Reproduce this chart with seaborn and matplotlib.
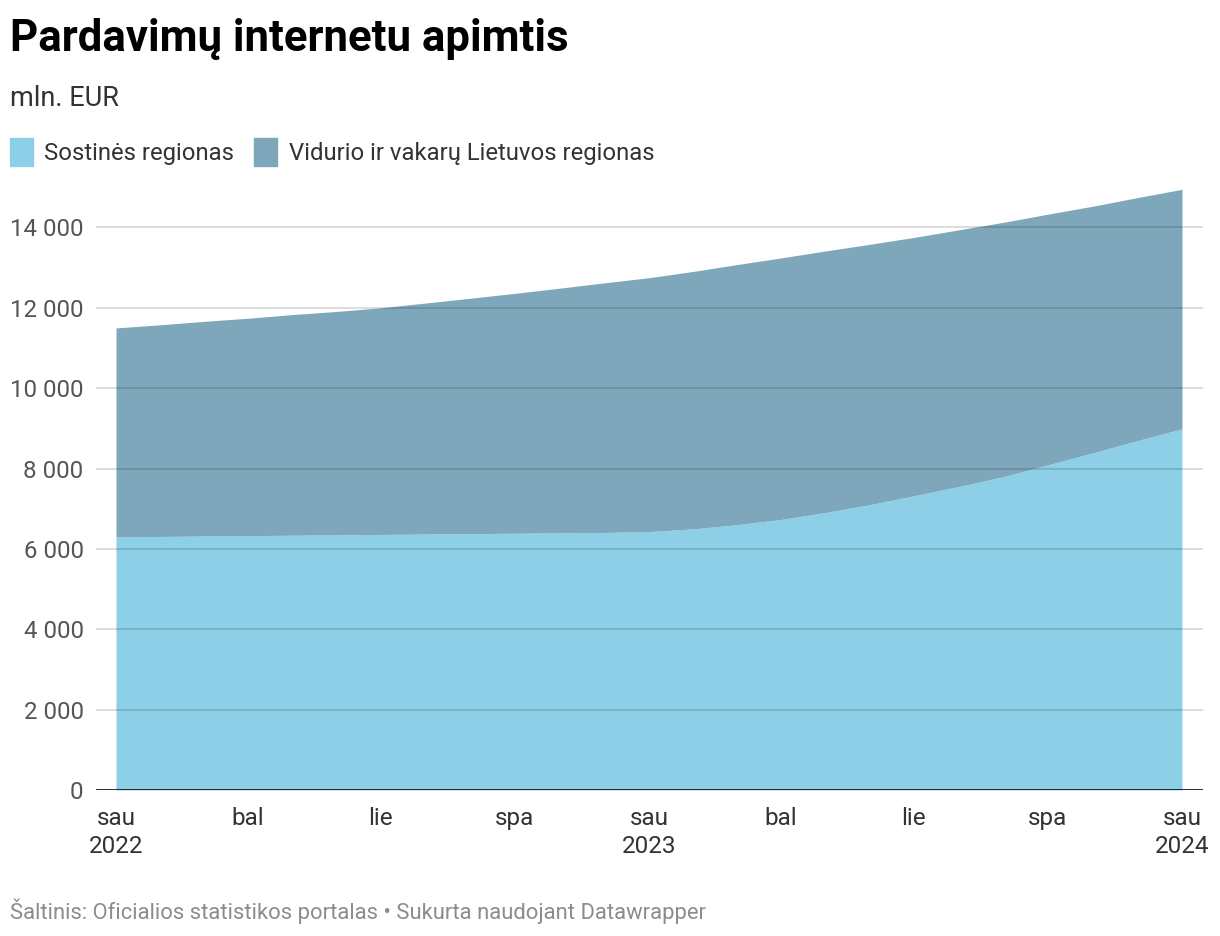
import pandas as pd
import matplotlib
matplotlib.use("Agg")
import matplotlib.pyplot as plt
from matplotlib.patches import Rectangle
import seaborn as sns

# duomenys, mln. EUR (nuskaityta nuo grafiko)
menesiai = pd.date_range("2022-01-01", "2024-01-01", freq="MS")
sostines = [6300, 6310, 6320, 6330, 6340, 6350, 6360, 6370, 6380, 6390, 6400, 6410,
            6430, 6500, 6600, 6730, 6900, 7100, 7320, 7550, 7800, 8090, 8390, 8690, 8990]
vidurio = [5200, 5270, 5340, 5410, 5490, 5560, 5640, 5750, 5860, 5970, 6090, 6210,
           6320, 6410, 6470, 6510, 6510, 6480, 6430, 6390, 6330, 6240, 6140, 6050, 5960]
serijos = ["Sostinės regionas", "Vidurio ir vakarų Lietuvos regionas"]
spalvos = ["#8ccfe7", "#7fa7bb"]

tick_datos = pd.date_range("2022-01-01", "2024-01-01", freq="QS")
tick_zymes = ["sau\n2022", "bal", "lie", "spa", "sau\n2023", "bal", "lie", "spa", "sau\n2024"]
y_ticks = [0, 2000, 4000, 6000, 8000, 10000, 12000, 14000]

df = pd.DataFrame({"data": menesiai, serijos[0]: sostines, serijos[1]: vidurio})

sns.set_theme(style="white")
plt.rcParams["font.family"] = ["Roboto", "DejaVu Sans"]

W, H = 1220, 936
fig = plt.figure(figsize=(W / 100, H / 100), dpi=100)
px = 40.18  # px per 1000
ax_top = 790 - 15 * px
ax = fig.add_axes([96 / W, 1 - 790 / H, (1203 - 96) / W, (790 - ax_top) / H])

ax.stackplot(df["data"], df[serijos[0]], df[serijos[1]], colors=spalvos,
             linewidth=0, zorder=1)

ax.set_ylim(0, 15000)
ax.set_xlim(pd.Timestamp("2022-01-01") - pd.Timedelta(days=13.7),
            pd.Timestamp("2024-01-01") + pd.Timedelta(days=14.4))

for v in y_ticks[1:]:
    ax.axhline(v, color="black", alpha=0.16, lw=1.2, zorder=2)
ax.axhline(0, color="#1a1a1a", lw=2, zorder=3)

ax.set_yticks(y_ticks)
ax.set_yticklabels([f"{v:,}".replace(",", " ") for v in y_ticks])
ax.set_xticks(tick_datos)
ax.set_xticklabels(tick_zymes, linespacing=1.3)
ax.tick_params(axis="y", length=0, pad=9, labelsize=17.3, labelcolor="#555555")
ax.tick_params(axis="x", length=0, pad=12, labelsize=17.5, labelcolor="#333333")
for lbl in ax.get_xticklabels():
    lbl.set_verticalalignment("top")
for s in ax.spines.values():
    s.set_visible(False)
ax.grid(False)
ax.set_facecolor("none")

# antraštės
fig.text(10 / W, 1 - 51 / H, "Pardavimų internetu apimtis", fontsize=31.5,
         fontweight="bold", color="#000000", va="baseline")
fig.text(10 / W, 1 - 106 / H, "mln. EUR", fontsize=19.5, color="#333333", va="baseline")

# legenda
leg_x = [(10, 44), (254, 289)]
for (sx, tx), pav, sp in zip(leg_x, serijos, spalvos):
    fig.patches.append(Rectangle((sx / W, 1 - 166 / H), 23 / W, 28 / H,
                                 transform=fig.transFigure, color=sp))
    fig.text(tx / W, 1 - 160 / H, pav, fontsize=17.2, color="#333333", va="baseline")

fig.text(10 / W, 1 - 919 / H,
         "Šaltinis: Oficialios statistikos portalas • Sukurta naudojant Datawrapper",
         fontsize=15.8, color="#8c8c8c", va="baseline")

fig.savefig("out.png", dpi=100)
